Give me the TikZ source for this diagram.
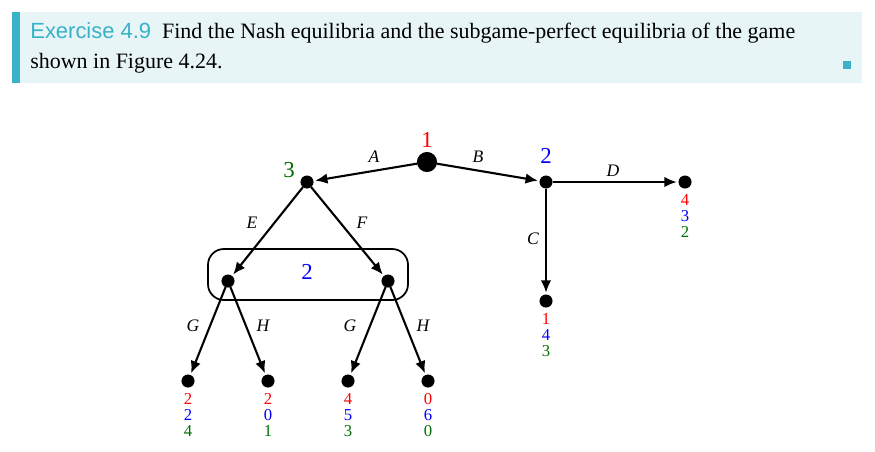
\documentclass[tikz,border=0pt]{standalone}
\usepackage{fontspec}
\setmainfont{Liberation Serif}
\newfontfamily\exfont{Liberation Sans}
\usetikzlibrary{arrows.meta}
\definecolor{exteal}{RGB}{56,178,200}
\definecolor{exback}{RGB}{232,245,247}
\definecolor{pgreen}{RGB}{0,110,0}
\begin{document}
\begin{tikzpicture}[x=0.02cm, y=-0.02cm,
  > = {Latex[length=7pt,width=6pt]},
  dot/.style = {draw,fill,circle,inner sep=0pt,minimum size=7pt},
  bigdot/.style = {dot,minimum size=11pt},
  move/.style = {->,line width=1.2pt,shorten >=1pt},
  lab/.style = {font=\fontsize{10}{10}\selectfont\itshape},
  pl/.style = {font=\fontsize{13}{13}\selectfont},
  pay/.style = {font=\fontsize{9.5}{9.2}\selectfont,align=center,below,inner sep=1pt}
  ]
	\useasboundingbox (0,0) rectangle (875,451);
	% exercise box
	\fill[exback] (12,12) rectangle (862,83);
	\fill[exteal] (12,12) rectangle (20,83);
	\fill[exteal] (843,61) rectangle (851,69);
	\node[anchor=base west,inner sep=0pt,font=\fontsize{12.5}{12.5}\selectfont] (ex1) at (30,38)
		{{\exfont\color{exteal}Exercise 4.9}\ \ Find the Nash equilibria and the subgame-perfect equilibria of the game};
	\node[anchor=base west,inner sep=0pt,font=\fontsize{12.5}{12.5}\selectfont] (ex2) at (30,68) {shown in Figure 4.24.};

	% decision nodes
	\node[bigdot] (r) at (427,162) {};
	\node[dot] (p3) at (307,182) {};
	\node[dot] (p2) at (546,182) {};
	\node[dot] (ie) at (228,281) {};
	\node[dot] (if) at (388,281) {};
	% terminal nodes
	\node[dot] (tD) at (685,182) {};
	\node[dot] (tC) at (546,301) {};
	\node[dot] (t1) at (188,381) {};
	\node[dot] (t2) at (268,381) {};
	\node[dot] (t3) at (348,381) {};
	\node[dot] (t4) at (428,381) {};

	% information set
	\draw[line width=1pt,rounded corners=9pt] (208,249) rectangle (408,300);

	% players
	\node[pl,text=red] (l1) at (427,140) {1};
	\node[pl,text=pgreen] (l3) at (289,170) {3};
	\node[pl,text=blue] (l2) at (546,156) {2};
	\node[pl,text=blue] (l2b) at (307,272) {2};

	% moves
	\draw[move] (r) -- (p3);
	\draw[move] (r) -- (p2);
	\draw[move] (p2) -- (tD);
	\draw[move] (p2) -- (tC);
	\draw[move] (p3) -- (ie);
	\draw[move] (p3) -- (if);
	\draw[move] (ie) -- (t1);
	\draw[move] (ie) -- (t2);
	\draw[move] (if) -- (t3);
	\draw[move] (if) -- (t4);

	\node[lab] at (374,157) {A};
	\node[lab] at (478,157) {B};
	\node[lab] at (613,171) {D};
	\node[lab] at (533,239) {C};
	\node[lab] at (252,223) {E};
	\node[lab] at (362,223) {F};
	\node[lab] at (193,326) {G};
	\node[lab] at (263,326) {H};
	\node[lab] at (350,326) {G};
	\node[lab] at (423,326) {H};

	% payoffs
	\foreach \t/\a/\b/\c in {tD/4/3/2, tC/1/4/3, t1/2/2/4, t2/2/0/1, t3/4/5/3, t4/0/6/0}
		\node[pay] at ([yshift=-2pt]\t.south) {\textcolor{red}{\a}\\ \textcolor{blue}{\b}\\ \textcolor{pgreen}{\c}};
\end{tikzpicture}
\end{document}
